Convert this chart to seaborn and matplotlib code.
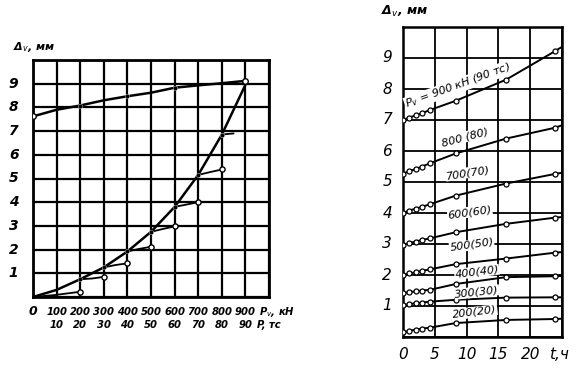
import numpy as np
import pandas as pd
import seaborn as sns
import matplotlib
matplotlib.use("Agg")
import matplotlib.pyplot as plt

# ---------------- data: left panel (load test) ----------------
load_P = [0, 100, 200, 300, 400, 500, 600, 700, 800, 900]
load_D = [0.0, 0.3, 0.75, 1.25, 1.92, 2.75, 3.8, 5.15, 6.85, 8.95]
unload_P = [900, 800, 700, 600, 500, 400, 300, 200, 100, 0]
unload_D = [9.12, 9.02, 8.93, 8.83, 8.62, 8.47, 8.3, 8.08, 7.9, 7.62]
creep_P0 = [0, 200, 300, 400, 500, 600, 700, 800]
creep_D0 = [0.0, 0.75, 1.25, 1.92, 2.75, 3.8, 5.15, 6.85]
creep_Pm = [90, 250, 350, 450, 550, 650, 750, 825]
creep_Dm = [0.08, 0.78, 1.35, 2.03, 2.87, 3.9, 5.27, 6.88]
creep_P1 = [200, 300, 400, 500, 600, 700, 800, 850]
creep_D1 = [0.22, 0.85, 1.42, 2.12, 2.98, 4.0, 5.38, 6.9]
x_ticks_kN = [100, 200, 300, 400, 500, 600, 700, 800, 900]
x_ticks_tc = ["10", "20", "30", "40", "50", "60", "70", "80", "90"]
y_ticks_left = [1, 2, 3, 4, 5, 6, 7, 8, 9]

# ---------------- data: right panel (creep in time) ----------------
t_hours = [0, 1, 2, 3, 4.2, 8.3, 16.2, 23.9, 25]
loads = ["900", "800", "700", "600", "500", "400", "300", "200"]
d900 = [7.0, 7.08, 7.15, 7.22, 7.32, 7.62, 8.3, 9.22, 9.36]
d800 = [5.27, 5.35, 5.42, 5.5, 5.6, 5.92, 6.4, 6.75, 6.83]
d700 = [4.0, 4.08, 4.14, 4.2, 4.28, 4.56, 4.95, 5.26, 5.3]
d600 = [2.97, 3.03, 3.08, 3.13, 3.18, 3.38, 3.65, 3.85, 3.87]
d500 = [2.0, 2.05, 2.09, 2.13, 2.18, 2.35, 2.53, 2.72, 2.74]
d400 = [1.42, 1.45, 1.47, 1.5, 1.52, 1.71, 1.93, 1.96, 1.97]
d300 = [1.03, 1.06, 1.09, 1.11, 1.14, 1.2, 1.27, 1.28, 1.28]
d200 = [0.15, 0.2, 0.24, 0.27, 0.3, 0.45, 0.55, 0.58, 0.59]
curve_labels = ["$P_v$ = 900 кН (90 тс)", "800 (80)", "700(70)", "600(60)",
                "500(50)", "400(40)", "300(30)", "200(20)"]
label_t = [8.6, 9.7, 10.2, 10.5, 10.8, 11.6, 11.6, 11.3]
label_D = [8.1, 6.45, 5.3, 4.03, 2.97, 2.1, 1.45, 0.8]
label_rot = [20, 15, 9, 8, 8, 7, 6, 7]
x_ticks_right = [0, 5, 10, 15, 20]
y_ticks_right = [1, 2, 3, 4, 5, 6, 7, 8, 9]

# ---------------- figure ----------------
sns.set_theme(style="white")
plt.rcParams["font.family"] = ["DejaVu Sans"]
fig = plt.figure(figsize=(5.86, 3.89), dpi=100)
axL = fig.add_axes([33 / 586, 1 - 297 / 389, 236 / 586, 237 / 389])
axR = fig.add_axes([403 / 586, 1 - 337 / 389, 159 / 586, 310 / 389])

K = "black"

# ---- left panel ----
axL.set_xlim(0, 1000)
axL.set_ylim(0, 10)
axL.set_xticks(np.arange(0, 1001, 100))
axL.set_yticks(np.arange(0, 11, 1))
axL.grid(True, color=K, lw=1.6)
axL.set_axisbelow(True)
for s in axL.spines.values():
    s.set_color(K)
    s.set_linewidth(2.0)
axL.tick_params(length=0, labelbottom=False, labelleft=False)

sns.lineplot(x=load_P, y=load_D, sort=False, color=K, lw=1.8, ax=axL)
sns.lineplot(x=unload_P, y=unload_D, sort=False, color=K, lw=1.8, ax=axL)
sns.lineplot(x=[900, 900], y=[load_D[-1], unload_D[0]], sort=False, color=K, lw=1.8, ax=axL)
for p0, d0, pm, dm, p1, d1 in zip(creep_P0, creep_D0, creep_Pm, creep_Dm, creep_P1, creep_D1):
    sns.lineplot(x=[p0, pm, p1], y=[d0, dm, d1], sort=False, color=K, lw=1.3, ax=axL)
sns.scatterplot(x=creep_P1[:-1], y=creep_D1[:-1], s=14, facecolor="white",
                edgecolor=K, linewidth=1.0, ax=axL, zorder=5)
sns.scatterplot(x=load_P[2:9], y=load_D[2:9], s=10, color=K, ax=axL, zorder=5)
sns.scatterplot(x=[unload_P[i] for i in (3, 5, 7)], y=[unload_D[i] for i in (3, 5, 7)],
                s=10, color=K, ax=axL, zorder=5)
sns.scatterplot(x=[unload_P[0], unload_P[-1]], y=[unload_D[0], unload_D[-1]], s=16,
                facecolor="white", edgecolor=K, linewidth=1.0, ax=axL, zorder=6)

fl = dict(style="italic", weight="bold", color=K)
xt = axL.get_xaxis_transform()
yt = axL.get_yaxis_transform()
r1, r2 = -0.062, -0.117
axL.text(0, r1, "0", transform=xt, ha="center", va="center", fontsize=9, **fl)
for p, lab in zip(x_ticks_kN, x_ticks_tc):
    axL.text(p, r1, str(p), transform=xt, ha="center", va="center", fontsize=7.2, **fl)
    axL.text(p, r2, lab, transform=xt, ha="center", va="center", fontsize=7.2, **fl)
axL.text(958, r1, "P$_v$, кН", transform=xt, ha="left", va="center", fontsize=7.2, **fl)
axL.text(950, r2, "P, тс", transform=xt, ha="left", va="center", fontsize=7.2, **fl)
for v in y_ticks_left:
    axL.text(-0.082, v, str(v), transform=yt, ha="center", va="center", fontsize=10, **fl)
axL.text(-0.085, 1.055, "Δ$_v$, мм", transform=axL.transAxes, ha="left", va="center",
         fontsize=8, **fl)

# ---- right panel ----
axR.set_xlim(0, 25)
axR.set_ylim(0, 10)
axR.set_xticks(np.arange(0, 26, 5))
axR.set_yticks(np.arange(0, 11, 1))
axR.grid(True, color=K, lw=1.3)
axR.set_axisbelow(True)
for s in axR.spines.values():
    s.set_color(K)
    s.set_linewidth(1.8)
axR.tick_params(length=0, labelbottom=False, labelleft=False)

series = [d900, d800, d700, d600, d500, d400, d300, d200]
rows = []
for name, vals in zip(loads, series):
    for t, d in zip(t_hours, vals):
        rows.append((name, t, d))
df = pd.DataFrame(rows, columns=["load", "t", "d"])
sns.lineplot(data=df, x="t", y="d", units="load", estimator=None, sort=False,
             color=K, lw=1.4, ax=axR)
mk = df[df["t"] < 25]
sns.scatterplot(data=mk, x="t", y="d", s=13, facecolor="white", edgecolor=K,
                linewidth=0.9, ax=axR, zorder=5)

for lab, tx, dy, rot in zip(curve_labels, label_t, label_D, label_rot):
    axR.text(tx, dy, lab, rotation=rot, ha="center", va="center", fontsize=8,
             style="italic", color=K, rotation_mode="anchor",
             bbox=dict(facecolor="white", edgecolor="none", pad=0.3), zorder=7)

fr = dict(style="italic", color=K)
xtr = axR.get_xaxis_transform()
ytr = axR.get_yaxis_transform()
for v in x_ticks_right:
    axR.text(v, -0.058, str(v), transform=xtr, ha="center", va="center", fontsize=11, **fr)
axR.text(24.5, -0.058, "t,ч", transform=xtr, ha="center", va="center", fontsize=11, **fr)
for v in y_ticks_right:
    axR.text(-0.1, v, str(v), transform=ytr, ha="center", va="center", fontsize=11, **fr)
axR.text(-0.14, 1.05, "Δ$_v$, мм", transform=axR.transAxes, ha="left", va="center",
         fontsize=9, weight="bold", **fr)

fig.savefig("out.png", dpi=100, facecolor="white")
